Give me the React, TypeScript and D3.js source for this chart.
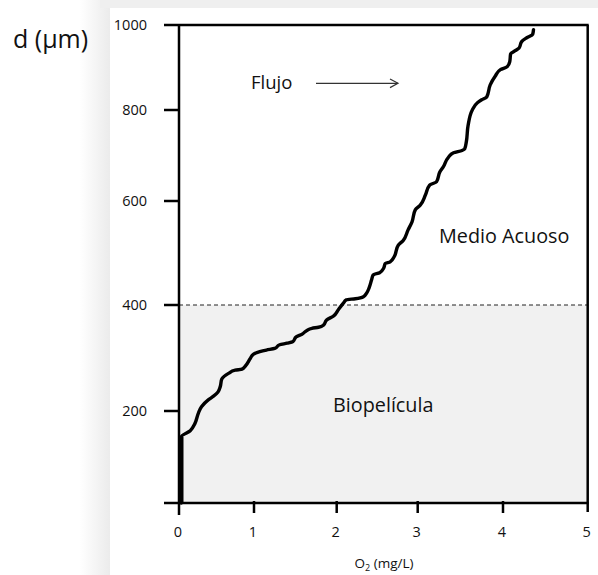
import React from "react";
import * as d3 from "d3";

// O2 concentration (mg/L) vs depth d (µm)
const o2Values = [
  0.03, 0.03, 0.15, 0.21, 0.26, 0.3, 0.39, 0.46, 0.52, 0.55, 0.57, 0.66, 0.75, 0.84, 0.88, 0.95,
  0.99, 1.07, 1.15, 1.25, 1.31, 1.4, 1.47, 1.51, 1.58, 1.64, 1.7, 1.78, 1.84, 1.88, 1.96, 2.02,
  2.08, 2.12, 2.23, 2.33, 2.37, 2.4, 2.43, 2.45, 2.53, 2.58, 2.6, 2.66, 2.71, 2.76, 2.82, 2.88,
  2.93, 2.97, 3.03, 3.09, 3.14, 3.22, 3.26, 3.3, 3.36, 3.42, 3.52, 3.55, 3.57, 3.59, 3.64, 3.7,
  3.75, 3.81, 3.85, 3.91, 3.97, 4.05, 4.08, 4.09, 4.14, 4.19, 4.22, 4.28, 4.35, 4.36,
];
const depthValues = [
  0, 144, 157, 172, 196, 208, 221, 228, 236, 246, 260, 271, 277, 279, 284, 299,
  307, 312, 315, 318, 325, 328, 331, 340, 345, 352, 356, 358, 362, 372, 379, 391,
  403, 410, 412, 416, 423, 433, 448, 458, 462, 471, 480, 483, 493, 515, 524, 544,
  560, 583, 592, 613, 635, 642, 664, 675, 696, 706, 711, 714, 730, 765, 800, 817,
  824, 831, 859, 880, 895, 902, 914, 932, 939, 946, 961, 970, 978, 989,
];

// hand-drawn axes: tick values and where the picture puts them
const xTicks = [0, 1, 2, 3, 4, 5];
const xTickPos = [179, 254, 336.7, 417.7, 503, 587.7];
const yTicks = [0, 200, 400, 600, 800, 1000];
const yTickPos = [503, 411, 305, 201, 110, 25];
const yLabelTicks = [200, 400, 600, 800, 1000];
const biofilmTop = 400;

const FONT = "'Open Sans', 'Noto Sans', sans-serif";

export default function App() {
  const x = d3.scaleLinear().domain(xTicks).range(xTickPos);
  const y = d3.scaleLinear().domain(yTicks).range(yTickPos);

  const x0 = x(0);
  const x1 = x(5);
  const y0 = y(0);
  const yTop = y(1000);

  const pts: [number, number][] = o2Values.map((v, i) => [v, depthValues[i]]);
  const line = d3
    .line<[number, number]>()
    .x((d) => x(d[0]))
    .y((d) => y(d[1]))
    .curve(d3.curveMonotoneY);

  return (
    <svg
      width={598}
      height={575}
      style={{ position: "absolute", left: 0, top: 0, background: "#fff" }}
      fontFamily={FONT}
    >
      <defs>
        <linearGradient id="shadowL" x1="0" x2="1" y1="0" y2="0">
          <stop offset="0" stopColor="#ffffff" />
          <stop offset="1" stopColor="#ebebeb" />
        </linearGradient>
      </defs>
      {/* page backdrop */}
      <rect x={80} y={0} width={30} height={575} fill="url(#shadowL)" />
      <rect x={100} y={0} width={498} height={8} fill="#efefef" />
      <rect x={110} y={8} width={488} height={567} fill="#ffffff" />

      {/* biofilm region */}
      <rect x={x0} y={y(biofilmTop)} width={x1 - x0} height={y0 - y(biofilmTop)} fill="#f1f1f1" />
      <line
        x1={x0}
        x2={x1}
        y1={y(biofilmTop)}
        y2={y(biofilmTop)}
        stroke="#222"
        strokeWidth={1}
        strokeDasharray="4,3"
      />

      {/* frame */}
      <g stroke="#000" strokeWidth={2.5} fill="none">
        <line x1={164} x2={x1 + 1} y1={yTop} y2={yTop} />
        <line x1={164} x2={x1 + 1} y1={y0} y2={y0} />
        <line x1={x0} x2={x0} y1={yTop} y2={y0 + 12} />
        <line x1={x1} x2={x1} y1={yTop} y2={y0 + 9} />
        {yLabelTicks.slice(0, -1).map((t) => (
          <line key={t} x1={164} x2={x0} y1={y(t)} y2={y(t)} />
        ))}
        {xTicks.slice(1, -1).map((t) => (
          <line key={t} x1={x(t)} x2={x(t)} y1={y0 - 2} y2={y0 + 10} />
        ))}
      </g>

      {/* tick labels */}
      <g fontSize={14.5} fill="#111">
        {yLabelTicks.map((t) => (
          <text key={t} x={147} y={y(t)} dy="0.35em" textAnchor="end">
            {t}
          </text>
        ))}
        {xTicks.map((t) => (
          <text key={t} x={x(t) - 1} y={537} textAnchor="middle">
            {t}
          </text>
        ))}
      </g>

      {/* axis titles */}
      <text x={13} y={48} fontSize={25} fill="#111">
        d (µm)
      </text>
      <text x={384} y={568} fontSize={13.5} fill="#111" textAnchor="middle">
        O<tspan fontSize={9} dy={3}>2</tspan>
        <tspan dy={-3}> (mg/L)</tspan>
      </text>

      {/* annotations */}
      <text x={251} y={89} fontSize={18.5} fill="#111">
        Flujo
      </text>
      <g stroke="#333" strokeWidth={1.2} fill="none">
        <line x1={316} x2={398} y1={83.3} y2={83.3} />
        <polyline points="390,79 398,83.3 390,87.6" />
      </g>
      <text x={439} y={243} fontSize={19.8} fill="#111">
        Medio Acuoso
      </text>
      <text x={333} y={412} fontSize={19.8} fill="#111">
        Biopelícula
      </text>

      {/* O2 profile */}
      <path d={line(pts) ?? ""} fill="none" stroke="#000" strokeWidth={3.4} strokeLinejoin="round" strokeLinecap="round" />
      <line x1={x(o2Values[0])} x2={x(o2Values[1])} y1={y(depthValues[0])} y2={y(depthValues[1])} stroke="#000" strokeWidth={4.5} />
    </svg>
  );
}
